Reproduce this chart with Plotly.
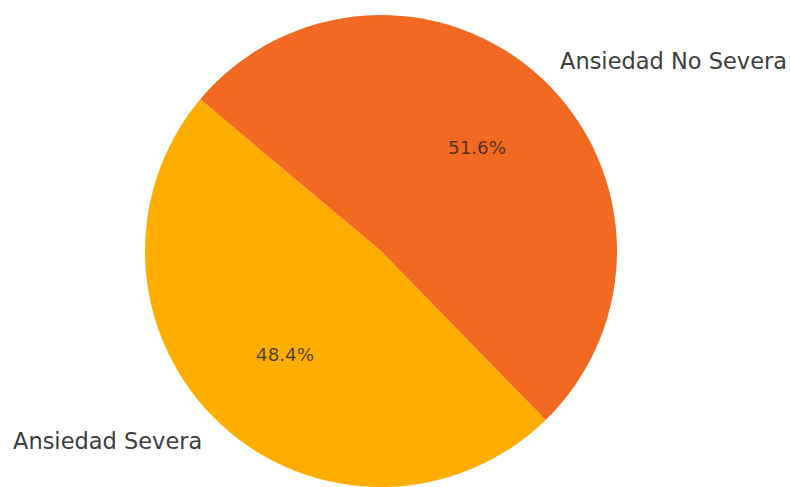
import math
import plotly.graph_objects as go

# Survey split by anxiety severity
labels = ["Ansiedad Severa", "Ansiedad No Severa"]
values = [48.4, 51.6]
colors = ["#FFAE00", "#F26A21"]

W, H = 790, 487
start_deg = 140          # first slice starts here (math angle), counterclockwise
cx_px, cy_px, r_px = 381, 251, 236

total = sum(values)
# plotly's rotation is measured clockwise from 12 o'clock; in counterclockwise
# mode it marks the clockwise-leading edge of the first slice
rotation = 90 - start_deg - 360 * values[0] / total

fig = go.Figure(go.Pie(
    labels=labels,
    values=values,
    sort=False,
    direction="counterclockwise",
    rotation=rotation,
    marker=dict(colors=colors, line=dict(width=0)),
    textinfo="none",
    hoverinfo="label+percent",
    domain=dict(x=[(cx_px - r_px) / W, (cx_px + r_px) / W],
                y=[(H - cy_px - r_px) / H, (H - cy_px + r_px) / H]),
))

# Outer labels at 1.1 R and percentages at 0.6 R, along each slice's mid angle
ang = start_deg
annotations = []
for lab, v in zip(labels, values):
    span = 360 * v / total
    mid = math.radians(ang + span / 2)
    ang += span
    c, s = math.cos(mid), math.sin(mid)
    lx = (cx_px + 1.1 * r_px * c) / W
    ly = (H - cy_px + 1.1 * r_px * s) / H
    annotations.append(dict(
        x=lx, y=ly, xref="paper", yref="paper", text=lab, showarrow=False,
        xanchor="left" if c >= 0 else "right", yanchor="middle",
        font=dict(family="DejaVu Sans", size=22.5, color="#3d3d3d"),
    ))
    px = (cx_px + 0.6 * r_px * c) / W
    py = (H - cy_px + 0.6 * r_px * s) / H
    annotations.append(dict(
        x=px, y=py, xref="paper", yref="paper", text=f"{100 * v / total:.1f}%",
        showarrow=False, xanchor="center", yanchor="middle",
        font=dict(family="DejaVu Sans", size=18.3, color="rgba(30,30,30,0.78)"),
    ))

fig.update_layout(
    width=W, height=H,
    margin=dict(l=0, r=0, t=0, b=0),
    paper_bgcolor="white",
    showlegend=False,
    annotations=annotations,
)

fig.write_html("out.html")
